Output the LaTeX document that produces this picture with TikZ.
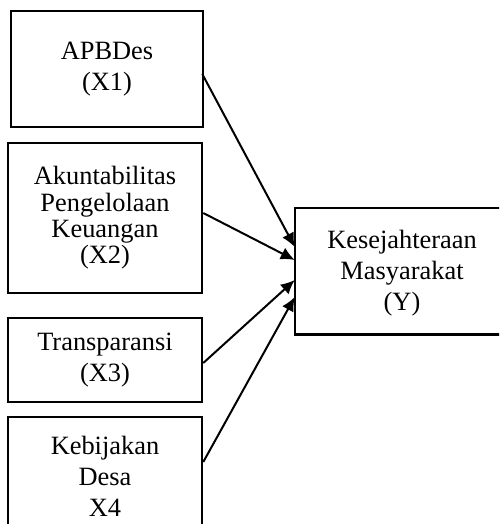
\documentclass[tikz,border=0pt]{standalone}
\usepackage{fontspec}
\setmainfont{Liberation Serif}
\usetikzlibrary{arrows.meta}
\begin{document}
\begin{tikzpicture}[x=0.5pt,y=-0.5pt,
  box/.style={draw=black,line width=1.25pt,fill=white,align=center,inner sep=0pt,
    font=\fontsize{13.2}{15.5}\selectfont},
  openbox/.style={line width=1.25pt,line join=miter},
  conn/.style={line width=1pt,-{Latex[length=7pt,width=6.5pt]}}]
\useasboundingbox (0,0) rectangle (499,524);
\clip (0,0) rectangle (499,524);
\node[box,minimum width=96pt,minimum height=58pt] (x1) at (107,69) {APBDes\\(X1)};
\node[box,minimum width=97pt,minimum height=75pt,font=\fontsize{13.2}{13.2}\selectfont] (x2) at (105,218) {Akuntabilitas\\Pengelolaan\\Keuangan\\(X2)};
\node[box,minimum width=97pt,minimum height=42pt] (x3) at (105,360) {Transparansi\\(X3)};
\node[box,minimum width=97pt,minimum height=59pt] (x4) at (105,476) {Kebijakan\\Desa\\X4};
\node[box,draw=none,minimum width=130pt,minimum height=62pt] (y) at (426,271) {};
\node[font=\fontsize{13.2}{15.5}\selectfont,align=center,inner sep=0pt] (yt) at (402,273) {Kesejahteraan\\Masyarakat\\(Y)};
\draw[openbox] (y.north east) -- (y.north west) -- (y.south west) -- (y.south east);
\coordinate (yw) at (y.west);
\draw[conn] ([xshift=-1pt,yshift=-2.5pt]x1.east) -- ([yshift=12pt]yw);
\draw[conn] ([yshift=2.5pt]x2.east) -- ([yshift=5.5pt]yw);
\draw[conn] ([yshift=-1.5pt]x3.east) -- ([yshift=-4.5pt]yw);
\draw[conn] ([yshift=7pt]x4.east) -- ([yshift=-13pt]yw);
\end{tikzpicture}
\end{document}
